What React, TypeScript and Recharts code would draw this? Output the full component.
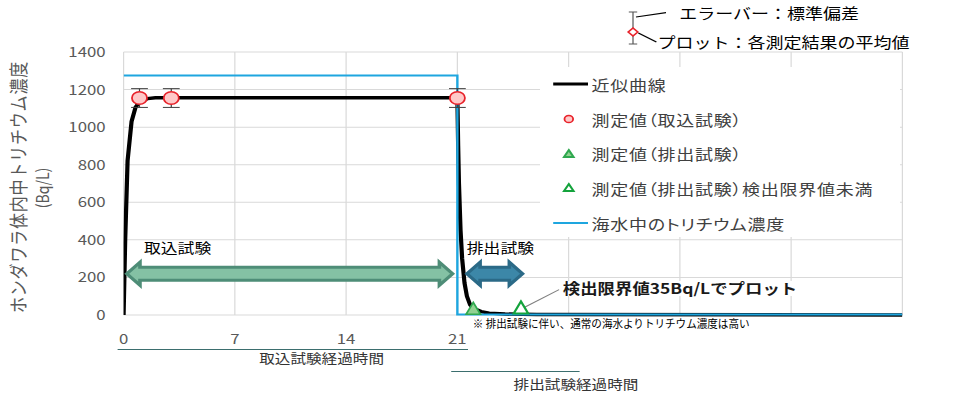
import React from 'react';
import {
  ComposedChart,
  Line,
  Scatter,
  XAxis,
  YAxis,
  CartesianGrid,
  ErrorBar,
  ReferenceLine,
} from 'recharts';

const FONT = "'Noto Sans CJK JP', 'Noto Sans', sans-serif";
// the source picture is stretched horizontally, so the whole chart is drawn narrow and scaled
const STRETCH = 1.2;
const W = 813;
const H = 406;

const xTicks = [0, 7, 14, 21, 28, 35, 42, 49];
const xLabelMax = 21;
const yTicks = [0, 200, 400, 600, 800, 1000, 1200, 1400];

// 近似曲線 (days, Bq/L)
const fitCurve = [
  { x: 0, y: 0 },
  { x: 0.1, y: 400 },
  { x: 0.25, y: 820 },
  { x: 0.5, y: 1030 },
  { x: 0.75, y: 1105 },
  { x: 1, y: 1135 },
  { x: 1.5, y: 1152 },
  { x: 2, y: 1157 },
  { x: 21, y: 1157 },
  { x: 21.05, y: 900 },
  { x: 21.1, y: 700 },
  { x: 21.2, y: 450 },
  { x: 21.3, y: 300 },
  { x: 21.45, y: 170 },
  { x: 21.6, y: 100 },
  { x: 21.8, y: 55 },
  { x: 22, y: 35 },
  { x: 22.5, y: 18 },
  { x: 23, y: 10 },
  { x: 24, y: 5 },
  { x: 26, y: 2 },
  { x: 49, y: 0 },
];

// 海水中のトリチウム濃度
const seawater = [
  { x: 0, y: 1275 },
  { x: 21, y: 1275 },
  { x: 21, y: 3 },
  { x: 49, y: 3 },
];

// 測定値（取込試験） mean ± sd
const intakePoints = [
  { x: 1, y: 1155, err: 50 },
  { x: 3, y: 1155, err: 50 },
  { x: 21, y: 1155, err: 50 },
];

// 測定値（排出試験）
const exhaustPoints = [{ x: 22, y: 30 }];

// 測定値（排出試験）検出限界値未満 — plotted at 35 Bq/L
const belowLimitPoints = [{ x: 25, y: 35 }];

const intakeSpan = [
  { x: 0.2, y: 220 },
  { x: 20.7, y: 220 },
];
const exhaustSpan = [
  { x: 21.6, y: 220 },
  { x: 25.1, y: 220 },
];
const limitLeader = [
  { x: 25.2, y: 40 },
  { x: 27.4, y: 135 },
];

const legendItems = [
  { name: '近似曲線', kind: 'line', color: '#000', width: 3 },
  { name: '測定値（取込試験）', kind: 'circle', color: '#e8232b', fill: '#ffc9c9' },
  { name: '測定値（排出試験）', kind: 'triangle', color: '#2fa84f', fill: '#92d292' },
  { name: '測定値（排出試験）検出限界値未満', kind: 'triangle', color: '#14a33c', fill: '#fff' },
  { name: '海水中のトリチウム濃度', kind: 'line', color: '#1ea6df', width: 2 },
];

const Circle = (p: any) => (
  <circle cx={p.cx} cy={p.cy} r={6.3} fill="#ffc9c9" stroke="#e8232b" strokeWidth={1.5} />
);

const triangle = (fill: string, stroke: string, sw: number) => (p: any) => (
  <polygon
    points={`${p.cx},${p.cy - 7} ${p.cx + 6},${p.cy + 5} ${p.cx - 6},${p.cy + 5}`}
    fill={fill}
    stroke={stroke}
    strokeWidth={sw}
  />
);

const doubleArrow = (fill: string, stroke: string) => (p: any) => {
  const a = Math.min(p.x1, p.x2);
  const b = Math.max(p.x1, p.x2);
  const y = p.y1;
  const hl = 11;
  const hh = 11.5;
  const sh = 6.5;
  const pts = [
    [a, y],
    [a + hl, y - hh],
    [a + hl, y - sh],
    [b - hl, y - sh],
    [b - hl, y - hh],
    [b, y],
    [b - hl, y + hh],
    [b - hl, y + sh],
    [a + hl, y + sh],
    [a + hl, y + hh],
  ]
    .map((q) => q.join(','))
    .join(' ');
  return <polygon points={pts} fill={fill} stroke={stroke} strokeWidth={3} strokeLinejoin="miter" />;
};

const XTick = (p: any) =>
  p.payload.value > xLabelMax ? (
    <g />
  ) : (
    <text x={p.x} y={p.y} dy={21} textAnchor="middle" fill="#595959" fontSize={14} fontFamily={FONT}>
      {p.payload.value}
    </text>
  );

const YTick = (p: any) => (
  <text x={p.x} y={p.y} dx={-7} dy={5} textAnchor="end" fill="#595959" fontSize={14} fontFamily={FONT}>
    {p.payload.value}
  </text>
);

function LegendSymbol({ item }: { item: any }) {
  return (
    <svg width={40} height={14} style={{ display: 'block' }}>
      {item.kind === 'line' && (
        <line x1={11} x2={40} y1={7} y2={7} stroke={item.color} strokeWidth={item.width} />
      )}
      {item.kind === 'circle' && (
        <circle cx={24} cy={7} r={3.6} fill={item.fill} stroke={item.color} strokeWidth={1.5} />
      )}
      {item.kind === 'triangle' && (
        <polygon points="24,3 28,10 20,10" fill={item.fill} stroke={item.color} strokeWidth={1.8} />
      )}
    </svg>
  );
}

const abs = (left: number, top: number, extra: React.CSSProperties = {}): React.CSSProperties => ({
  position: 'absolute',
  left,
  top,
  whiteSpace: 'nowrap',
  lineHeight: 1,
  ...extra,
});

export default function App() {
  return (
    <div
      style={{
        position: 'absolute',
        left: 0,
        top: 0,
        width: 976,
        height: 406,
        background: '#fff',
        overflow: 'hidden',
      }}
    >
      <div
        style={{
          position: 'absolute',
          left: 0,
          top: 0,
          width: W,
          height: H,
          transform: `scaleX(${STRETCH})`,
          transformOrigin: '0 0',
          fontFamily: FONT,
        }}
      >
        <ComposedChart width={W} height={H} margin={{ top: 52, right: 61, bottom: 61, left: 53 }}>
          <CartesianGrid stroke="#d9d9d9" strokeWidth={1} />
          <XAxis
            type="number"
            dataKey="x"
            domain={[0, 49]}
            ticks={xTicks}
            allowDataOverflow
            axisLine={false}
            tickLine={false}
            height={30}
            tick={XTick}
          />
          <YAxis
            type="number"
            domain={[0, 1400]}
            ticks={yTicks}
            axisLine={false}
            tickLine={false}
            width={50}
            tick={YTick}
          />
          <Line
            data={fitCurve}
            dataKey="y"
            type="linear"
            stroke="#000"
            strokeWidth={3.5}
            dot={false}
            isAnimationActive={false}
          />
          <Line
            data={seawater}
            dataKey="y"
            type="linear"
            stroke="#1ea6df"
            strokeWidth={2}
            dot={false}
            isAnimationActive={false}
          />
          <Scatter data={intakePoints} dataKey="y" shape={Circle} isAnimationActive={false}>
            <ErrorBar dataKey="err" direction="y" width={7} stroke="#404040" strokeWidth={1} />
          </Scatter>
          <Scatter
            data={exhaustPoints}
            dataKey="y"
            shape={triangle('#92d292', '#2fa84f', 1.5)}
            isAnimationActive={false}
          />
          <Scatter
            data={belowLimitPoints}
            dataKey="y"
            shape={triangle('#fff', '#14a33c', 2)}
            isAnimationActive={false}
          />
          <ReferenceLine
            segment={intakeSpan}
            ifOverflow="visible"
            shape={doubleArrow('#84c1a4', '#4e8d77')}
          />
          <ReferenceLine
            segment={exhaustSpan}
            ifOverflow="visible"
            shape={doubleArrow('#3c87a8', '#2b6a87')}
          />
          <ReferenceLine segment={limitLeader} ifOverflow="visible" stroke="#7f7f7f" strokeWidth={1} />
        </ComposedChart>

        {/* legend */}
        <div
          style={{
            position: 'absolute',
            left: 450,
            top: 67,
            width: 300,
            height: 170,
            background: '#fff',
          }}
        >
          {legendItems.map((item) => (
            <div
              key={item.name}
              style={{
                display: 'flex',
                alignItems: 'center',
                height: 34.7,
                color: '#404040',
                fontSize: 15,
                fontFeatureSettings: '"palt"',
                letterSpacing: 0.6,
              }}
            >
              <LegendSymbol item={item} />
              <span style={{ marginLeft: 3 }}>{item.name}</span>
            </div>
          ))}
        </div>

        {/* axis titles */}
        <div
          style={abs(15, 187, {
            transform: 'translate(-50%, -50%) rotate(-90deg)',
            fontSize: 16,
            letterSpacing: 0.8,
            color: '#595959',
          })}
        >
          ホンダワラ体内中トリチウム濃度
        </div>
        <div
          style={abs(35, 188, {
            transform: 'translate(-50%, -50%) rotate(-90deg)',
            fontSize: 14,
            color: '#595959',
          })}
        >
          (Bq/L)
        </div>

        <div style={abs(98, 349, { width: 292, height: 1, background: '#3b6e6e' })} />
        <div style={abs(268, 357, { transform: 'translate(-50%, -50%)', fontSize: 13, color: '#333' })}>
          取込試験経過時間
        </div>
        <div style={abs(376, 371, { width: 107, height: 1, background: '#3b6e6e' })} />
        <div style={abs(480, 383, { transform: 'translate(-50%, -50%)', fontSize: 13, color: '#333' })}>
          排出試験経過時間
        </div>

        {/* in-plot notes */}
        <div style={abs(120, 240, { fontSize: 14, color: '#000' })}>取込試験</div>
        <div style={abs(389, 240, { fontSize: 14, color: '#000' })}>排出試験</div>
        <div style={abs(469, 281, { fontSize: 14.5, fontWeight: 700, color: '#1a1a1a', background: '#fff' })}>
          検出限界値35Bq/Lでプロット
        </div>
        <div
          style={abs(394, 318, {
            fontSize: 11,
            color: '#000',
            transform: 'scaleX(0.8)',
            transformOrigin: '0 0',
          })}
        >
          ※ 排出試験に伴い、通常の海水よりトリチウム濃度は高い
        </div>

        {/* error bar / plot explanation */}
        <svg style={{ position: 'absolute', left: 515, top: 0 }} width={40} height={50}>
          <line x1={12.5} x2={12.5} y1={12} y2={44} stroke="#555" strokeWidth={1} />
          <line x1={9} x2={16} y1={12} y2={12} stroke="#555" strokeWidth={1} />
          <line x1={9} x2={16} y1={44} y2={44} stroke="#555" strokeWidth={1} />
          <polygon points="12.5,28 16.5,32 12.5,36 8.5,32" fill="#fff" stroke="#e8232b" strokeWidth={1.5} />
          <line x1={15} x2={49} y1={17} y2={11} stroke="#000" strokeWidth={1.2} />
          <line x1={17} x2={32} y1={33} y2={42} stroke="#000" strokeWidth={1.2} />
        </svg>
        <div style={abs(566, 5, { fontSize: 15, color: '#000' })}>エラーバー：標準偏差</div>
        <div style={abs(548, 34, { fontSize: 15, color: '#000' })}>プロット：各測定結果の平均値</div>
      </div>
    </div>
  );
}
